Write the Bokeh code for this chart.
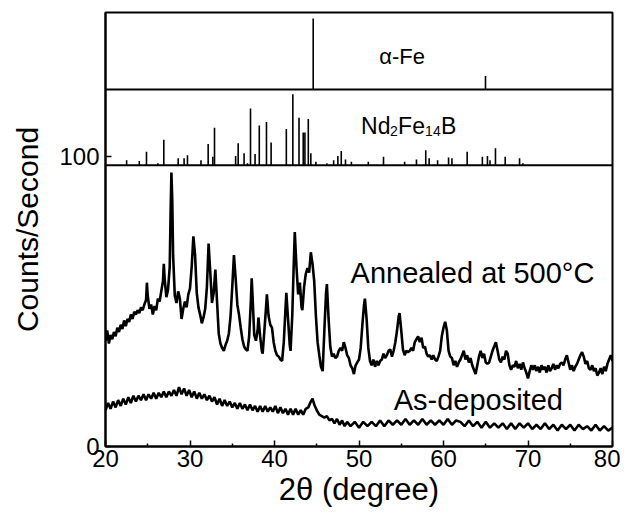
import math
from bokeh.plotting import figure
from bokeh.models import Range1d, FixedTicker, Label, Span
from bokeh.embed import file_html
from bokeh.resources import INLINE

# ---------------- data ----------------
two_theta_annealed = [
    20.0, 20.2, 20.4, 20.6, 20.8, 21.0, 21.2, 21.4, 21.6, 21.8, 22.0, 22.2, 22.4, 22.6, 22.8,
    23.0, 23.2, 23.4, 23.6, 23.8, 24.0, 24.2, 24.4, 24.6, 24.8, 24.9, 25.0, 25.2, 25.4, 25.6,
    25.8, 26.0, 26.2, 26.4, 26.6, 26.8, 26.9, 27.0, 27.2, 27.4, 27.6, 27.7, 27.8, 27.9, 28.0,
    28.2, 28.4, 28.6, 28.8, 29.0, 29.2, 29.4, 29.6, 29.8, 30.0, 30.2, 30.4, 30.6, 30.8, 31.0,
    31.2, 31.4, 31.6, 31.8, 32.0, 32.2, 32.4, 32.6, 32.8, 33.0, 33.2, 33.4, 33.6, 33.8, 34.0,
    34.2, 34.4, 34.6, 34.8, 35.0, 35.2, 35.4, 35.6, 35.8, 36.0, 36.2, 36.4, 36.6, 36.8, 37.0,
    37.2, 37.3, 37.4, 37.6, 37.8, 38.0, 38.1, 38.3, 38.5, 38.6, 38.8, 39.0, 39.1, 39.3, 39.5,
    39.7, 39.9, 40.1, 40.3, 40.5, 40.7, 40.9, 41.1, 41.3, 41.4, 41.6, 41.8, 41.9, 42.1, 42.3,
    42.4, 42.6, 42.8, 43.0, 43.2, 43.3, 43.5, 43.7, 43.9, 44.1, 44.3, 44.5, 44.7, 44.9, 45.1,
    45.3, 45.5, 45.7, 45.9, 46.1, 46.2, 46.4, 46.6, 46.8, 47.0, 47.2, 47.4, 47.6, 47.8, 48.0,
    48.2, 48.4, 48.6, 48.8, 49.0, 49.2, 49.4, 49.6, 49.8, 50.0, 50.2, 50.4, 50.6, 50.7, 50.9,
    51.1, 51.3, 51.5, 51.7, 51.9, 52.1, 52.3, 52.5, 52.7, 52.9, 53.1, 53.3, 53.5, 53.7, 53.9,
    54.1, 54.3, 54.5, 54.7, 54.8, 55.0, 55.2, 55.4, 55.6, 55.8, 56.0, 56.2, 56.4, 56.6, 56.8,
    57.0, 57.2, 57.4, 57.6, 57.8, 58.0, 58.2, 58.4, 58.6, 58.8, 59.0, 59.2, 59.4, 59.6, 59.8,
    60.0, 60.2, 60.4, 60.6, 60.8, 61.0, 61.2, 61.4, 61.6, 61.8, 62.0, 62.2, 62.4, 62.6, 62.8,
    63.0, 63.2, 63.4, 63.6, 63.8, 64.0, 64.2, 64.4, 64.6, 64.8, 65.0, 65.2, 65.4, 65.6, 65.8,
    66.0, 66.2, 66.4, 66.6, 66.8, 67.0, 67.2, 67.4, 67.6, 67.8, 68.0, 68.2, 68.4, 68.6, 68.8,
    69.0, 69.2, 69.4, 69.6, 69.8, 70.0, 70.2, 70.4, 70.6, 70.8, 71.0, 71.2, 71.4, 71.6, 71.8,
    72.0, 72.2, 72.4, 72.6, 72.8, 73.0, 73.2, 73.4, 73.6, 73.8, 74.0, 74.2, 74.4, 74.6, 74.8,
    75.0, 75.2, 75.4, 75.6, 75.8, 76.0, 76.2, 76.4, 76.6, 76.8, 77.0, 77.2, 77.4, 77.6, 77.8,
    78.0, 78.2, 78.4, 78.6, 78.8, 79.0, 79.2, 79.4, 79.6, 79.8, 80.0,
]
counts_annealed = [
    36.5, 40.0, 35.5, 38.5, 37.0, 39.5, 38.0, 41.0, 39.5, 42.0, 40.5, 43.5, 41.5, 44.0, 43.0,
    45.5, 44.0, 46.5, 45.5, 47.0, 46.0, 48.0, 47.0, 49.0, 50.5, 56.5, 52.0, 47.5, 49.0, 45.5,
    48.5, 47.0, 51.0, 50.0, 53.5, 57.0, 63.0, 58.0, 51.5, 54.0, 62.0, 80.0, 94.5, 85.0, 66.0,
    52.0, 49.5, 53.5, 51.0, 44.0, 47.5, 50.0, 48.0, 52.5, 54.5, 62.0, 72.5, 66.0, 53.0, 48.0,
    45.5, 42.5, 44.5, 47.5, 55.0, 70.0, 60.0, 49.5, 53.0, 61.0, 50.0, 39.0, 35.5, 34.0, 33.0,
    35.0, 36.5, 39.0, 45.0, 55.0, 66.0, 58.0, 49.0, 45.5, 41.0, 37.0, 34.5, 33.5, 33.0, 38.0,
    50.0, 58.0, 52.0, 38.5, 36.5, 40.0, 44.5, 38.0, 33.0, 32.0, 40.0, 48.0, 52.5, 45.0, 42.0,
    41.0, 36.0, 33.0, 31.5, 31.0, 30.0, 29.5, 36.0, 47.5, 53.0, 44.0, 35.0, 33.0, 45.0, 65.0,
    74.0, 62.0, 52.5, 56.5, 48.0, 47.0, 55.0, 59.5, 61.5, 60.0, 67.0, 63.0, 57.0, 45.0, 36.0,
    31.5, 27.5, 26.0, 40.0, 53.0, 56.0, 44.0, 34.5, 31.0, 32.0, 30.5, 31.0, 33.0, 34.0, 33.0,
    36.0, 34.0, 31.5, 30.5, 28.0, 27.0, 25.0, 28.0, 29.0, 30.0, 34.0, 42.0, 49.0, 51.0, 44.0,
    34.0, 29.5, 28.0, 30.0, 27.5, 29.5, 28.0, 29.5, 30.0, 32.0, 30.5, 31.5, 33.0, 33.5, 31.0,
    33.0, 36.0, 40.0, 45.0, 46.0, 40.0, 33.5, 31.5, 33.0, 32.5, 33.0, 34.0, 33.0, 36.0, 37.0,
    38.0, 36.0, 37.5, 34.0, 34.5, 32.0, 31.0, 31.5, 30.0, 31.5, 30.0, 29.5, 31.0, 33.0, 38.0,
    41.0, 43.0, 40.0, 33.0, 31.0, 30.5, 28.0, 29.5, 27.5, 29.0, 30.0, 31.5, 33.0, 30.0, 31.5,
    29.0, 30.5, 28.0, 26.5, 25.0, 28.0, 31.0, 33.0, 30.5, 32.0, 29.0, 28.5, 29.0, 31.0, 33.0,
    34.5, 36.0, 33.0, 30.0, 29.0, 31.0, 30.0, 33.0, 32.0, 28.0, 26.5, 28.0, 27.5, 29.5, 27.0,
    28.5, 26.5, 29.0, 27.0, 25.5, 23.5, 26.0, 28.0, 26.5, 28.0, 26.0, 27.5, 25.5, 28.0, 26.5,
    27.5, 25.5, 28.0, 26.0, 27.0, 28.5, 26.5, 28.0, 27.0, 28.5, 29.0, 28.0, 30.0, 31.5, 29.0,
    26.5, 28.0, 26.0, 27.5, 28.5, 30.0, 31.5, 32.5, 31.0, 28.5, 29.5, 27.0, 26.5, 28.0, 26.0,
    27.0, 24.5, 25.5, 27.0, 25.0, 27.5, 26.0, 28.5, 30.0, 31.5, 29.5,
]

two_theta_asdep = [
    20.0, 20.3, 20.6, 20.9, 21.2, 21.5, 21.8, 22.1, 22.4, 22.7, 23.0, 23.3, 23.6, 23.9, 24.2,
    24.5, 24.8, 25.1, 25.4, 25.7, 26.0, 26.3, 26.6, 26.9, 27.2, 27.5, 27.8, 28.1, 28.4, 28.7,
    29.0, 29.3, 29.6, 29.9, 30.2, 30.5, 30.8, 31.1, 31.4, 31.7, 32.0, 32.3, 32.6, 32.9, 33.2,
    33.5, 33.8, 34.1, 34.4, 34.7, 35.0, 35.3, 35.6, 35.9, 36.2, 36.5, 36.8, 37.1, 37.4, 37.7,
    38.0, 38.3, 38.6, 38.9, 39.2, 39.5, 39.8, 40.1, 40.4, 40.7, 41.0, 41.3, 41.6, 41.9, 42.2,
    42.5, 42.8, 43.1, 43.4, 43.7, 44.0, 44.3, 44.5, 44.7, 45.0, 45.3, 45.6, 45.9, 46.2, 46.5,
    46.8, 47.1, 47.4, 47.7, 48.0, 48.3, 48.6, 49.0, 49.5, 50.0, 50.5, 51.0, 51.5, 52.0, 52.5,
    53.0, 53.5, 54.0, 54.5, 55.0, 55.5, 56.0, 56.5, 57.0, 57.5, 58.0, 58.5, 59.0, 59.5, 60.0,
    60.5, 61.0, 61.5, 62.0, 62.5, 63.0, 63.5, 64.0, 64.5, 65.0, 65.5, 66.0, 66.5, 67.0, 67.5,
    68.0, 68.5, 69.0, 69.5, 70.0, 70.5, 71.0, 71.5, 72.0, 72.5, 73.0, 73.5, 74.0, 74.5, 75.0,
    75.5, 76.0, 76.5, 77.0, 77.5, 78.0, 78.5, 79.0, 79.5, 80.0,
]
counts_asdep = [
    12.5, 15.0, 13.0, 15.5, 13.5, 16.0, 14.0, 16.5, 14.5, 17.0, 15.0, 17.5, 15.5, 17.5, 16.0,
    18.0, 16.0, 18.0, 16.5, 18.5, 16.5, 18.5, 17.0, 19.0, 17.0, 19.0, 17.5, 19.5, 17.5, 20.5,
    18.0, 20.0, 17.5, 19.5, 17.0, 19.0, 16.5, 18.5, 16.5, 18.0, 16.0, 17.5, 15.5, 17.0, 14.5,
    16.5, 14.0, 16.0, 14.0, 15.5, 13.5, 15.0, 13.0, 15.0, 13.0, 14.5, 12.5, 14.5, 12.5, 14.0,
    12.0, 14.0, 12.0, 14.0, 12.0, 13.5, 12.0, 14.0, 11.5, 13.5, 11.5, 13.0, 11.0, 13.0, 11.0,
    13.0, 11.0, 12.5, 11.0, 13.0, 13.5, 15.5, 16.5, 14.5, 12.5, 11.0, 10.5, 10.0, 10.5, 9.0,
    9.5, 8.0, 9.5, 7.5, 9.0, 7.0, 8.5, 7.0, 8.5, 6.5, 8.5, 7.0, 8.5, 7.0, 9.0,
    7.0, 9.0, 7.5, 9.0, 7.5, 9.5, 7.5, 9.0, 7.5, 9.5, 7.5, 9.0, 7.5, 9.0, 7.5,
    9.5, 7.5, 9.0, 8.5, 7.0, 9.0, 7.0, 8.5, 6.5, 8.5, 6.5, 8.0, 6.5, 8.0, 6.0,
    8.0, 6.0, 8.0, 6.5, 8.0, 6.0, 7.5, 6.0, 8.0, 6.0, 7.5, 5.5, 7.5, 6.0, 7.5,
    5.5, 7.5, 6.0, 7.0, 5.5, 7.5, 5.5, 7.0, 5.5, 6.5,
]

# reference patterns: peak positions (2theta) and relative intensities (%)
nd_peaks = [22.5, 24.0, 24.85, 26.2, 26.9, 28.6, 29.3, 29.7, 31.3, 32.15, 32.7, 32.9,
            35.4, 35.7, 36.4, 36.8, 37.16, 37.7, 38.2, 39.05, 39.6, 41.4, 42.17, 42.9,
            43.4, 43.6, 44.0, 44.3, 44.9, 46.2, 47.0, 47.5, 47.9, 48.4, 49.1, 51.1,
            52.9, 55.4, 56.8, 57.9, 58.3, 59.3, 60.6, 61.0, 62.8, 64.6, 65.2, 65.5,
            66.15, 67.3, 69.0, 69.4]
nd_intensity = [7, 6, 19, 3, 36, 10, 10, 14, 7, 30, 12, 53,
                13, 31, 17, 3, 80, 16, 56, 61, 32, 51, 100, 67,
                46, 46, 65, 17, 5, 3, 7, 13, 20, 8, 5, 5,
                12, 5, 8, 21, 10, 7, 11, 10, 19, 12, 13, 7,
                24, 12, 10, 3]
fe_peaks = [44.58, 64.97]
fe_intensity = [100, 19]

x_ticks = [20, 30, 40, 50, 60, 70, 80]
x_minor_ticks = [25, 35, 45, 55, 65, 75]
y_ticks = [0, 100]

# panel layout (data units on the counts axis)
Y_TOP = 149.7
ND_BASE = 97.0
FE_BASE = 123.1
STICK_SCALE = 0.245

FONT = "Liberation Sans"

p = figure(width=620, height=515, x_range=Range1d(20, 80), y_range=Range1d(0, Y_TOP),
           output_backend="svg", toolbar_location=None,
           min_border_left=105, min_border_right=8, min_border_top=12, min_border_bottom=69)
p.grid.visible = False
p.background_fill_color = "white"
p.border_fill_color = "white"
p.outline_line_color = "black"
p.outline_line_width = 2

xa = p.xaxis[0]
xa.ticker = FixedTicker(ticks=x_ticks, minor_ticks=x_minor_ticks)
xa.major_tick_in = 6
xa.major_tick_out = 0
xa.minor_tick_in = 3
xa.minor_tick_out = 0
xa.axis_line_width = 2
xa.major_tick_line_width = 1.5
xa.minor_tick_line_width = 1.5
xa.major_label_text_font = FONT
xa.major_label_text_font_size = "24px"
xa.major_label_text_color = "black"
xa.major_label_standoff = 3
xa.axis_label = "2θ (degree)"
xa.axis_label_text_font = FONT
xa.axis_label_text_font_size = "31px"
xa.axis_label_text_font_style = "normal"
xa.axis_label_text_color = "black"
xa.axis_label_standoff = 2

ya = p.yaxis[0]
ya.ticker = FixedTicker(ticks=y_ticks, minor_ticks=[])
ya.major_tick_in = 6
ya.major_tick_out = 0
ya.minor_tick_in = 0
ya.minor_tick_out = 0
ya.axis_line_width = 2
ya.major_tick_line_width = 1.5
ya.major_label_text_font = FONT
ya.major_label_text_font_size = "24px"
ya.major_label_text_color = "black"
ya.major_label_standoff = 6
ya.axis_label = "Counts/Second"
ya.axis_label_text_font = FONT
ya.axis_label_text_font_size = "30px"
ya.axis_label_text_font_style = "normal"
ya.axis_label_text_color = "black"
ya.axis_label_standoff = 12

# curves
p.line(two_theta_annealed, counts_annealed, line_width=2.6, line_color="black")
p.line(two_theta_asdep, counts_asdep, line_width=2.6, line_color="black")

# panel dividers
p.add_layout(Span(location=ND_BASE, dimension="width", line_color="black", line_width=2))
p.add_layout(Span(location=FE_BASE, dimension="width", line_color="black", line_width=2))

# reference sticks
p.segment(x0=nd_peaks, y0=[ND_BASE] * len(nd_peaks), x1=nd_peaks,
          y1=[ND_BASE + v * STICK_SCALE for v in nd_intensity], line_color="black", line_width=1.6)
p.segment(x0=fe_peaks, y0=[FE_BASE] * len(fe_peaks), x1=fe_peaks,
          y1=[FE_BASE + v * STICK_SCALE for v in fe_intensity], line_color="black", line_width=1.6)

def lab(x, y, text, size, align="left", xo=0, yo=0):
    p.add_layout(Label(x=x, y=y, text=text, text_font=FONT, text_font_size=size,
                       text_align=align, text_baseline="alphabetic", text_color="black",
                       x_offset=xo, y_offset=yo))

lab(55.1, 134.4, "α-Fe", "22px", align="center")
# Nd2Fe14B with subscripts
lab(50.25, 110.6, "Nd", "23px")
lab(50.25, 110.6, "2", "14px", xo=29, yo=-5)
lab(50.25, 110.6, "Fe", "23px", xo=37)
lab(50.25, 110.6, "14", "14px", xo=64, yo=-5)
lab(50.25, 110.6, "B", "23px", xo=80)

lab(49.0, 60.0, "Annealed at 500°C", "29px")
lab(54.1, 16.0, "As-deposited", "29px")

open("out.html", "w").write(file_html(p, INLINE))
